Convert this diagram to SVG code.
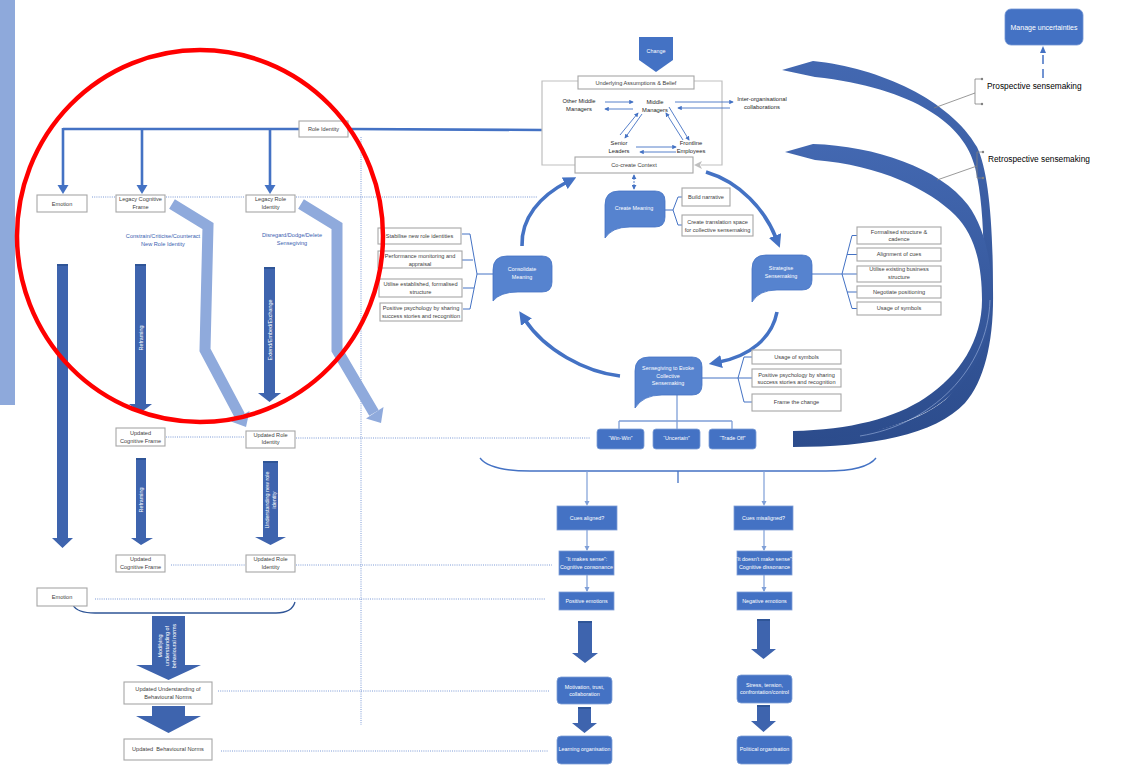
<svg xmlns="http://www.w3.org/2000/svg" width="1127" height="772" viewBox="0 0 1127 772">
  <style>
    .bx{fill:#fff;stroke:#A6A6A6;stroke-width:1.1}
    .t{font-family:"Liberation Sans",Arial,sans-serif;font-size:5.6px;fill:#404040;text-anchor:middle}
    .tk{font-family:"Liberation Sans",Arial,sans-serif;font-size:5.8px;fill:#262626;text-anchor:middle}
    .tw{font-family:"Liberation Sans",Arial,sans-serif;font-size:5.4px;fill:#fff;text-anchor:middle}
    .tb{font-family:"Liberation Sans",Arial,sans-serif;font-size:5.6px;fill:#3A62B0;text-anchor:middle}
    .tl{font-family:"Liberation Sans",Arial,sans-serif;font-size:8.3px;fill:#000}
    .dot{stroke:#5B80CB;stroke-width:0.8;stroke-dasharray:1 1.2;fill:none}
    .blk{fill:#3E64AE}
    .cap{fill:#2F5597}
    .lb{fill:none;stroke:#8FAADC;stroke-width:11;stroke-linejoin:miter}
    .lbh{fill:#8FAADC}
    .bub{fill:#5683CF;stroke:#4472C4;stroke-width:0.8}
    .bl{fill:#4472C4;stroke:#7F9FD7;stroke-width:0.8}
    .thin{stroke:#4472C4;stroke-width:0.9;fill:none;marker-end:url(#sa)}
    .brk{stroke:#4472C4;stroke-width:1;fill:none}
    .lc{stroke:#7F9FD7;stroke-width:1.3;fill:none}
    .big{stroke:#4472C4;stroke-width:3.6;fill:none;marker-end:url(#ba)}
    .thick{stroke:#4472C4;stroke-width:2.6;fill:none}
    .gr{stroke:#808080;stroke-width:0.8;fill:none}
  </style>
  <defs>
    <marker id="sa" viewBox="0 0 6 6" refX="5" refY="3" markerWidth="4.5" markerHeight="4.5" orient="auto" markerUnits="userSpaceOnUse">
      <path d="M0,0 L6,3 L0,6 Z" fill="#4472C4"/>
    </marker>
    <marker id="sal" viewBox="0 0 6 6" refX="5" refY="3" markerWidth="4.5" markerHeight="4.5" orient="auto" markerUnits="userSpaceOnUse">
      <path d="M0,0 L6,3 L0,6 Z" fill="#7F9FD7"/>
    </marker>
    <marker id="ba" viewBox="0 0 10 10" refX="2" refY="5" markerWidth="13" markerHeight="13" orient="auto" markerUnits="userSpaceOnUse">
      <path d="M0,0 L10,5 L0,10 Z" fill="#4472C4"/>
    </marker>
    <marker id="da" viewBox="0 0 6 6" refX="5" refY="3" markerWidth="5" markerHeight="5" orient="auto-start-reverse" markerUnits="userSpaceOnUse">
      <path d="M0,0 L6,3 L0,6 Z" fill="#4472C4"/>
    </marker>
    <linearGradient id="cg" x1="0" y1="0" x2="0" y2="1">
      <stop offset="0" stop-color="#4368B1"/>
      <stop offset="1" stop-color="#2C4C8C"/>
    </linearGradient>
  </defs>

  <!-- side band -->
  <rect x="0" y="0" width="15" height="405" fill="#8EA9DB"/>

  <!-- dotted guide lines -->
  <g id="guides">
    <path class="dot" d="M92,197 H115 M166,197 H245 M296,197 H537"/>
    <path class="dot" d="M166,437 H245 M296,438 H590"/>
    <path class="dot" d="M171,565 H245 M296,565 H552"/>
    <path class="dot" d="M95,599 H545"/>
    <path class="dot" d="M218,691 H550"/>
    <path class="dot" d="M221,751 H548"/>
    <path class="dot" d="M361,137 V725"/>
  </g>

  <!-- connectors -->
  <g id="connectors">
    <!-- role identity trunk -->
    <path class="thick" d="M63,129 H299 M348,129 L542,130"/>
    <path class="thick" d="M63,128 V186 M142,128 V186 M270,128 V186"/>
    <polygon fill="#4472C4" points="57.5,185 68.5,185 63,194"/>
    <polygon fill="#4472C4" points="136.5,185 147.5,185 142,194"/>
    <polygon fill="#4472C4" points="264.5,185 275.5,185 270,194"/>

    <!-- light bent arrows -->
    <polyline class="lb" points="172,204 208,226 205,350 240,416"/>
    <polygon class="lbh" points="246,427 249.5,411 231,421.5"/>
    <polyline class="lb" points="301,204 337,226 337,350 374,413"/>
    <polygon class="lbh" points="381,423 383.5,407 366,418.5"/>

    <!-- block arrows, left column -->
    <path class="blk" d="M57,264 H68 V538 H73 L62.5,548 L52,538 H57 Z"/>
    <rect class="cap" x="57" y="264" width="11" height="2"/>
    <path class="blk" d="M135,264 H146 V404 H152 L140.5,413 L129,404 H135 Z"/>
    <rect class="cap" x="135" y="264" width="11" height="2"/>
    <path class="blk" d="M264,267 H275 V393 H281 L269.5,402 L258,393 H264 Z"/>
    <rect class="cap" x="264" y="267" width="11" height="2"/>
    <path class="blk" d="M136,458 H146 V538 H153 L141,545 L131,538 H136 Z"/>
    <rect class="cap" x="136" y="458" width="10" height="2"/>
    <path class="blk" d="M263,461 H278 V537 H286 L270.5,545 L255,537 H263 Z"/>
    <rect class="cap" x="263" y="461" width="15" height="2"/>
    <path class="blk" d="M152,616 H185 V665 H201 L168.5,680 L136,665 H152 Z"/>
    <path class="blk" d="M152,706 H185 V716 H201 L168.5,733 L136,716 H152 Z"/>

    <text class="tw" transform="translate(141,338) rotate(-90)" y="2">Reframing</text>
    <text class="tw" transform="translate(270,330) rotate(-90)" y="2">Extend/Embed/Exchange</text>
    <text class="tw" transform="translate(141,500) rotate(-90)" y="2">Reframing</text>
    <text class="tw" transform="translate(270.5,500) rotate(-90)"><tspan x="0" y="-1.6">Understanding new role</tspan><tspan x="0" y="5.4">identity</tspan></text>
    <text class="tw" transform="translate(167,646) rotate(-90)"><tspan x="0" y="-5">Modifying</tspan><tspan x="0" y="2">understanding of</tspan><tspan x="0" y="9">behavioural norms</tspan></text>

    <text class="tb" x="163" y="238">Constrain/Criticise/Counteract</text>
    <text class="tb" x="163" y="245.5">New Role Identity</text>
    <text class="tb" x="292" y="237">Disregard/Dodge/Delete</text>
    <text class="tb" x="292" y="244.5">Sensegiving</text>

    <!-- emotion brace -->
    <path d="M73,605 Q77,613 95,613 H276 Q292,613 295,602" stroke="#2F5597" stroke-width="1.3" fill="none"/>

    <!-- context frame -->
    <path d="M578,81 H542 V165 H575 M694,81 H722 V165 H701" stroke="#BFBFBF" stroke-width="1.2" fill="none"/>
    <polygon points="694,165 702,161 700,165 702,169" fill="#BFBFBF"/>

    <!-- actor exchanges -->
    <path class="thin" d="M605,102 H633"/>
    <path class="thin" d="M633,109 H605"/>
    <path class="thin" d="M675,102 H733"/>
    <path class="thin" d="M730,108 H678"/>
    <path class="thin" d="M620,135 L638,113"/>
    <path class="thin" d="M642,114 L625,138"/>
    <path class="thin" d="M669,107 L689,140"/>
    <path class="thin" d="M683,140 L666,113"/>
    <path class="thin" d="M636,147 H676"/>
    <path class="thin" d="M676,152 H640"/>

    <!-- co-create to create meaning -->
    <path d="M634,175 V189" stroke="#4472C4" stroke-width="0.9" stroke-dasharray="2 1" fill="none" marker-start="url(#da)" marker-end="url(#da)"/>

    <!-- sensemaking cycle -->
    <path class="big" d="M522,246 C521,218 540,196 567,182"/>
    <path class="big" d="M706,172 C740,182 765,210 776,238"/>
    <path class="big" d="M777,312 C772,338 750,356 719,362"/>
    <path class="big" d="M620,376 C585,372 545,350 525,320"/>

    <!-- brackets -->
    <path class="brk" d="M462,234 H470 L477,274 L470,309 H463 M462,260 H473 M463,288 H474 M477,274 H493"/>
    <path class="brk" d="M682,197 H678 L673,210 L678,225 H682 M665,210 H673"/>
    <path class="brk" d="M857,235.5 H852 L842,274 L852,308.5 H857 M847,254.5 H857 M847,292 H857 M812,274 H857"/>
    <path class="brk" d="M752,357 H744 L738,378 L744,402 H752 M702,378 H752"/>

    <!-- outcomes tree -->
    <path class="lc" d="M677,395 V429 M619,421 H732 M619,421 V429 M732,421 V429"/>
    <path d="M480,458 Q490,471 530,471 H826 Q866,471 876,458 M678,471 V483" stroke="#4472C4" stroke-width="1.3" fill="none"/>
    <path d="M587,471 V504 M587,530 V550 M587,575 V591 M764,471 V504 M764,530 V550 M764,575 V591" stroke="#7F9FD7" stroke-width="1.2" fill="none"/>
    <path d="M587,500 V504 M587,546 V550 M587,587 V591 M764,500 V504 M764,546 V550 M764,587 V591" stroke="none" fill="none"/>
    <polygon fill="#7F9FD7" points="584.5,501 589.5,501 587,506"/>
    <polygon fill="#7F9FD7" points="584.5,546 589.5,546 587,551"/>
    <polygon fill="#7F9FD7" points="584.5,587 589.5,587 587,592"/>
    <polygon fill="#7F9FD7" points="761.5,501 766.5,501 764,506"/>
    <polygon fill="#7F9FD7" points="761.5,546 766.5,546 764,551"/>
    <polygon fill="#7F9FD7" points="761.5,587 766.5,587 764,592"/>

    <path class="blk" d="M578,621 H592 V653 H598 L585,663 L572,653 H578 Z"/>
    <rect class="cap" x="578" y="621" width="14" height="2"/>
    <path class="blk" d="M578,707 H591 V723 H597 L584.5,733 L572,723 H578 Z"/>
    <rect class="cap" x="578" y="707" width="13" height="2"/>
    <path class="blk" d="M757,619 H770 V649 H776 L763.5,659 L751,649 H757 Z"/>
    <rect class="cap" x="757" y="619" width="13" height="2"/>
    <path class="blk" d="M757,705 H770 V721 H776 L763.5,732 L751,721 H757 Z"/>
    <rect class="cap" x="757" y="705" width="13" height="2"/>

    <!-- sensemaking crescents -->
    <path fill="url(#cg)" d="M782,70 L813,61 C880,68 950,100 977,147 C988,170 993,220 993,290 C994,340 985,380 965,403 C935,435 870,447 793,447 L793,438 C860,438 915,425 945,400 C970,378 983,340 984,290 C984,240 983,200 975,167 C965,125 915,88 815,77 Z"/>
    <path fill="url(#cg)" d="M785,152 L813,144 C875,146 940,168 968,205 C985,228 992,262 992,300 C992,350 965,390 930,410 C890,432 840,440 793,441 L793,431 C850,430 895,418 925,398 C960,375 982,340 982,300 C982,265 975,235 955,215 C930,190 880,165 815,160 Z"/>
    <path d="M990,300 C988,370 930,425 860,436" stroke="#9DB3DF" stroke-width="0.6" fill="none"/>

    <!-- sensemaking labels -->
    <path class="gr" d="M982,79 H975 V104 H982 M975,93 L934,108"/>
    <circle cx="982" cy="79" r="1.2" fill="#808080"/>
    <circle cx="982" cy="104" r="1.2" fill="#808080"/>
    <path class="gr" d="M983,152 H977 V178 H983 M977,166 L937,180"/>
    <circle cx="983" cy="152" r="1.2" fill="#808080"/>
    <circle cx="983" cy="178" r="1.2" fill="#808080"/>
    <path d="M1043,78 V50" stroke="#4472C4" stroke-width="1.5" stroke-dasharray="9 5" fill="none"/>
    <polygon fill="#4472C4" points="1040,53 1046,53 1043,46"/>
  </g>

  <!-- left column nodes -->
  <g id="role-identity"><rect class="bx" x="299" y="121" width="49" height="16"/><text class="t" x="323.5" y="131">Role Identity</text></g>
  <g id="emotion-1"><rect class="bx" x="37" y="195" width="50" height="17"/><text class="t" x="62" y="205.5">Emotion</text></g>
  <g id="legacy-cognitive-frame"><rect class="bx" x="116" y="195" width="49" height="17"/><text class="t" x="140.5" y="201.3">Legacy Cognitive</text><text class="t" x="140.5" y="208.7">Frame</text></g>
  <g id="legacy-role-identity"><rect class="bx" x="246" y="195" width="49" height="17"/><text class="t" x="270.5" y="201.3">Legacy Role</text><text class="t" x="270.5" y="208.7">Identity</text></g>
  <g id="updated-cognitive-frame-1"><rect class="bx" x="116" y="428" width="49" height="18"/><text class="t" x="140.5" y="435.3">Updated</text><text class="t" x="140.5" y="442.7">Cognitive Frame</text></g>
  <g id="updated-role-identity-1"><rect class="bx" x="246" y="431" width="49" height="17"/><text class="t" x="270.5" y="437">Updated Role</text><text class="t" x="270.5" y="444.3">Identity</text></g>
  <g id="updated-cognitive-frame-2"><rect class="bx" x="116" y="555" width="49" height="17"/><text class="t" x="140.5" y="561.3">Updated</text><text class="t" x="140.5" y="568.7">Cognitive Frame</text></g>
  <g id="updated-role-identity-2"><rect class="bx" x="246" y="555" width="49" height="17"/><text class="t" x="270.5" y="561.3">Updated Role</text><text class="t" x="270.5" y="568.7">Identity</text></g>
  <g id="emotion-2"><rect class="bx" x="37" y="588" width="50" height="18"/><text class="t" x="62" y="598.7">Emotion</text></g>
  <g id="updated-understanding"><rect class="bx" x="124" y="682" width="88" height="22"/><text class="t" x="168" y="691">Updated Understanding of</text><text class="t" x="168" y="698.7">Behavioural Norms</text></g>
  <g id="updated-norms"><rect class="bx" x="124" y="739" width="88" height="21"/><text class="t" x="168" y="751" xml:space="preserve">Updated  Behavioural Norms</text></g>

  <!-- context nodes -->
  <g id="change"><path d="M639,37 H673 V60 L656,72 L639,60 Z" fill="#4472C4"/><text class="tw" x="656" y="52.7">Change</text></g>
  <g id="assumptions"><rect class="bx" x="578" y="76" width="116" height="13"/><text class="t" x="636" y="84.5">Underlying Assumptions &amp; Belief</text></g>
  <g id="co-create"><rect class="bx" x="575" y="157" width="118" height="16"/><text class="t" x="634" y="166.7">Co-create Context</text></g>
  <g id="actors">
    <text class="tk" x="579" y="103">Other Middle</text><text class="tk" x="579" y="111">Managers</text>
    <text class="tk" x="655" y="103.7">Middle</text><text class="tk" x="655" y="112">Managers</text>
    <text class="tk" x="619" y="145.3">Senior</text><text class="tk" x="619" y="152.7">Leaders</text>
    <text class="tk" x="691" y="145.3">Frontline</text><text class="tk" x="691" y="152.7">Employees</text>
    <text class="tk" x="762" y="101">Inter-organisational</text><text class="tk" x="762" y="108.7">collaborations</text>
  </g>

  <!-- cycle stages -->
  <g id="consolidate-meaning">
    <path class="bub" d="M493,301 V270 Q493,256 507,256 H542 Q552,256 552,266 V282 Q552,292 542,292 H518 Q500,292 493,301 Z"/>
    <text class="tw" x="522" y="271.3">Consolidate</text><text class="tw" x="522" y="279.3">Meaning</text>
  </g>
  <g id="create-meaning">
    <path class="bub" d="M605,238 V205 Q605,191 619,191 H655 Q665,191 665,201 V217 Q665,227 655,227 H630 Q612,227 605,238 Z"/>
    <text class="tw" x="634" y="210.3">Create Meaning</text>
  </g>
  <g id="strategise-sensemaking">
    <path class="bub" d="M752,302 V269 Q752,255 766,255 H802 Q812,255 812,265 V280 Q812,290 802,290 H777 Q759,290 752,302 Z"/>
    <text class="tw" x="781" y="270.3">Strategise</text><text class="tw" x="781" y="278">Sensemaking</text>
  </g>
  <g id="sensegiving">
    <path class="bub" d="M635,408 V371 Q635,357 649,357 H692 Q702,357 702,367 V385 Q702,395 692,395 H662 Q643,395 635,408 Z"/>
    <text class="tw" x="668" y="370.3">Sensegiving to Evoke</text><text class="tw" x="668" y="377.7">Collective</text><text class="tw" x="668" y="384.7">Sensemaking</text>
  </g>

  <!-- stage practices -->
  <g id="consolidate-practices">
    <rect class="bx" x="378" y="228" width="83" height="16"/><text class="t" x="419.5" y="238">Stabilise new role identities</text>
    <rect class="bx" x="378" y="251" width="84" height="17"/><text class="t" x="420" y="257.7">Performance monitoring and</text><text class="t" x="420" y="266">appraisal</text>
    <rect class="bx" x="379" y="279" width="83" height="18"/><text class="t" x="420.5" y="286">Utilise established, formalised</text><text class="t" x="420.5" y="293.7">structure</text>
    <rect class="bx" x="380" y="303" width="82" height="18"/><text class="t" x="421" y="310.3">Positive psychology by sharing</text><text class="t" x="421" y="318">success stories and recognition</text>
  </g>
  <g id="create-practices">
    <rect class="bx" x="682" y="188" width="48" height="18"/><text class="t" x="706" y="198.7">Build narrative</text>
    <rect class="bx" x="682" y="215" width="71" height="21"/><text class="t" x="717.5" y="224.3">Create translation space</text><text class="t" x="717.5" y="232">for collective sensemaking</text>
  </g>
  <g id="strategise-practices">
    <rect class="bx" x="857" y="227" width="84" height="17"/><text class="t" x="899" y="234.3">Formalised structure &amp;</text><text class="t" x="899" y="241.3">cadence</text>
    <rect class="bx" x="857" y="248" width="84" height="13"/><text class="t" x="899" y="256.3">Alignment of cues</text>
    <rect class="bx" x="857" y="266" width="84" height="16"/><text class="t" x="899" y="271.3">Utilise existing business</text><text class="t" x="899" y="278.7">structure</text>
    <rect class="bx" x="857" y="286" width="84" height="12"/><text class="t" x="899" y="294">Negotiate positioning</text>
    <rect class="bx" x="857" y="302" width="84" height="13"/><text class="t" x="899" y="310.3">Usage of symbols</text>
  </g>
  <g id="sensegiving-practices">
    <rect class="bx" x="752" y="350" width="89" height="14"/><text class="t" x="796.5" y="358.7">Usage of symbols</text>
    <rect class="bx" x="752" y="369" width="89" height="18"/><text class="t" x="796.5" y="377">Positive psychology by sharing</text><text class="t" x="796.5" y="384.3">success stories and recognition</text>
    <rect class="bx" x="752" y="394" width="89" height="17"/><text class="t" x="796.5" y="404.3">Frame the change</text>
  </g>

  <!-- framings -->
  <g id="win-win"><rect class="bl" x="597" y="429" width="47" height="20" rx="3"/><text class="tw" x="620.5" y="440">“Win-Win”</text></g>
  <g id="uncertain"><rect class="bl" x="653" y="429" width="47" height="20" rx="3"/><text class="tw" x="676.5" y="440">“Uncertain”</text></g>
  <g id="trade-off"><rect class="bl" x="709" y="429" width="47" height="20" rx="3"/><text class="tw" x="732.5" y="440">“Trade Off”</text></g>

  <!-- aligned branch -->
  <g id="cues-aligned"><rect class="bl" x="557" y="506" width="60" height="24"/><text class="tw" x="587" y="520">Cues aligned?</text></g>
  <g id="makes-sense"><rect class="bl" x="559" y="551" width="55" height="24"/><text class="tw" x="586.5" y="561">“It makes sense”:</text><text class="tw" x="586.5" y="568.7">Cognitive consonance</text></g>
  <g id="positive-emotions"><rect class="bl" x="559" y="592" width="55" height="18"/><text class="tw" x="586.5" y="603">Positive emotions</text></g>
  <g id="motivation"><rect class="bl" x="557" y="677" width="55" height="27" rx="4"/><text class="tw" x="584.5" y="688.7">Motivation, trust,</text><text class="tw" x="584.5" y="696">collaboration</text></g>
  <g id="learning-organisation"><rect class="bl" x="557" y="736" width="55" height="28" rx="4"/><text class="tw" x="584.5" y="751.3">Learning organisation</text></g>

  <!-- misaligned branch -->
  <g id="cues-misaligned"><rect class="bl" x="734" y="506" width="59" height="24"/><text class="tw" x="763.5" y="520">Cues misaligned?</text></g>
  <g id="doesnt-make-sense"><rect class="bl" x="737" y="551" width="55" height="24"/><text class="tw" x="764.5" y="561">“It doesn't make sense”:</text><text class="tw" x="764.5" y="568.7">Cognitive dissonance</text></g>
  <g id="negative-emotions"><rect class="bl" x="737" y="592" width="55" height="18"/><text class="tw" x="764.5" y="603">Negative emotions</text></g>
  <g id="stress"><rect class="bl" x="737" y="675" width="55" height="28" rx="4"/><text class="tw" x="764.5" y="687">Stress, tension,</text><text class="tw" x="764.5" y="694.3">confrontation/control</text></g>
  <g id="political-organisation"><rect class="bl" x="737" y="736" width="55" height="28" rx="4"/><text class="tw" x="764.5" y="751.3">Political organisation</text></g>

  <!-- sensemaking modes -->
  <g id="manage-uncertainties"><rect x="1005" y="9" width="78" height="36" rx="6" fill="#4472C4" stroke="#6F93D3" stroke-width="0.8"/><text x="1044" y="29.5" font-family="Liberation Sans, Arial, sans-serif" font-size="7" fill="#fff" text-anchor="middle">Manage uncertainties</text></g>
  <g id="prospective"><text class="tl" x="987" y="89">Prospective sensemaking</text></g>
  <g id="retrospective"><text class="tl" x="988" y="162">Retrospective sensemaking</text></g>

  <!-- highlight ring -->
  <ellipse cx="200" cy="236" rx="183" ry="186" fill="none" stroke="#FF0000" stroke-width="4.5"/>
</svg>
